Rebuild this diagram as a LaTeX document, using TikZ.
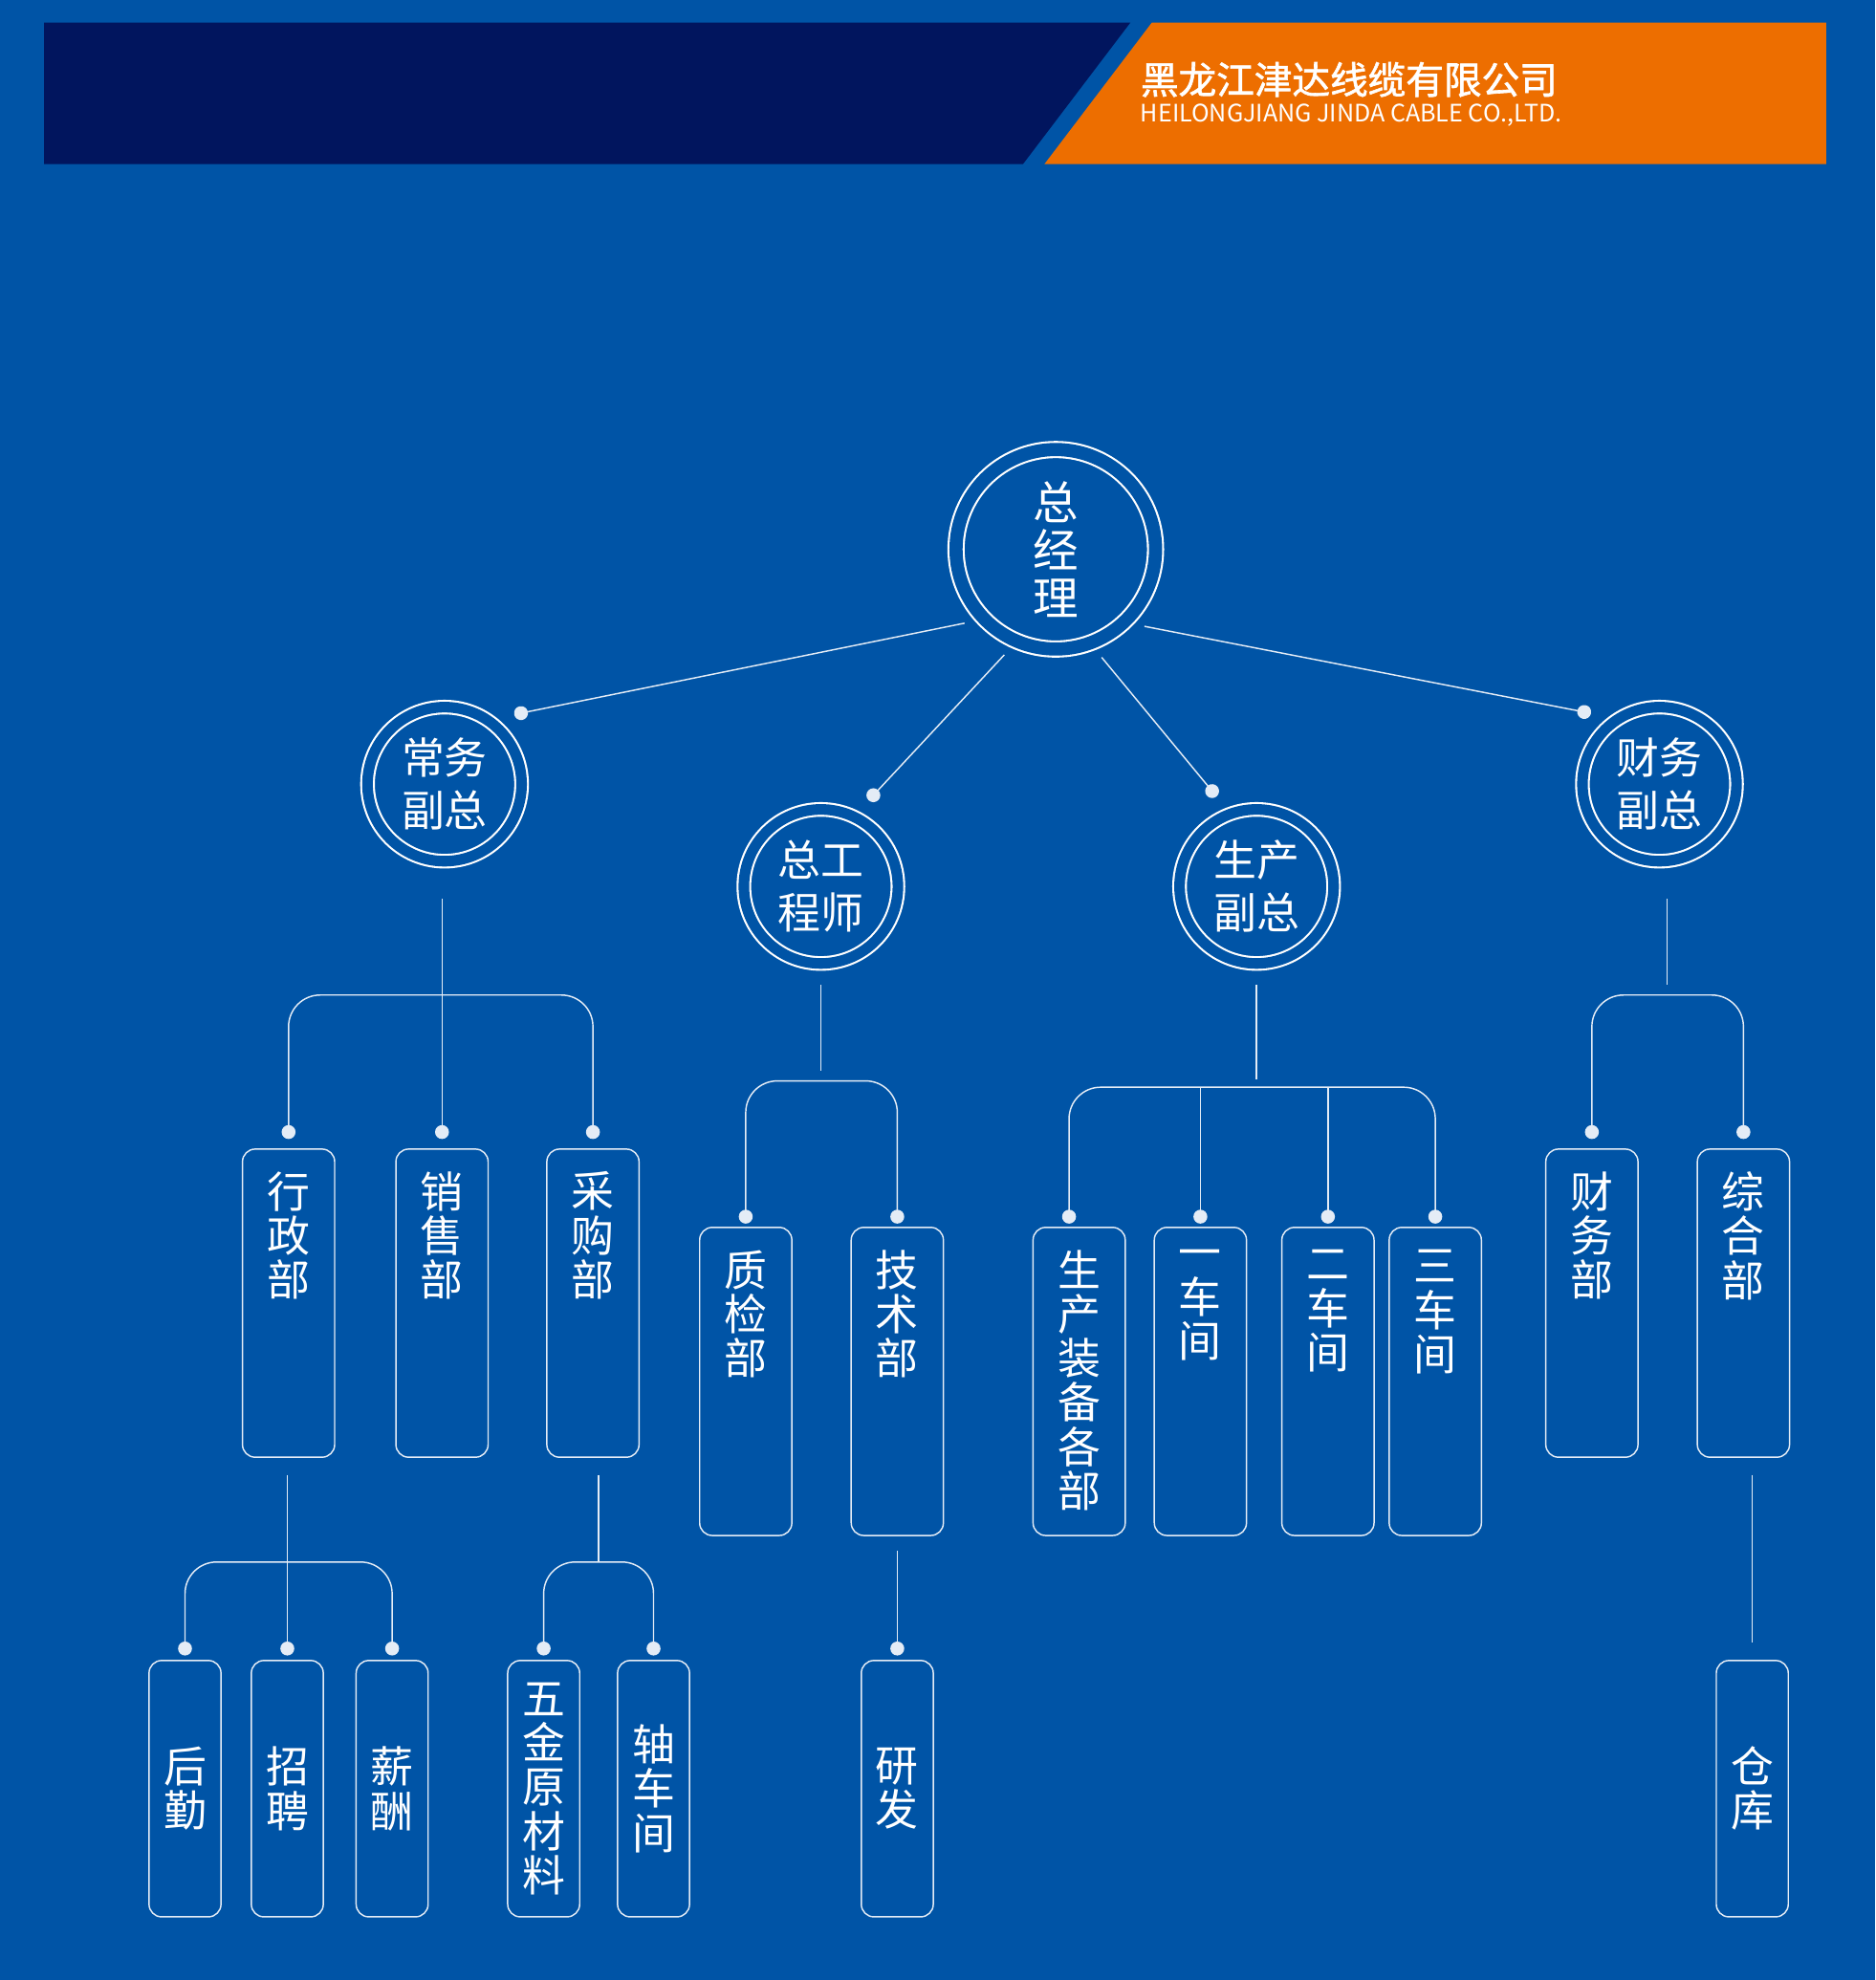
\documentclass[tikz,border=0pt]{standalone}
\usepackage{fontspec}
\usepackage{tikz}
\usetikzlibrary{arrows.meta}
\newfontfamily\cjk{Noto Sans CJK SC}
\newfontfamily\cjktitle[FakeBold=1.6]{Noto Sans CJK SC}
\newcommand{\deptext}[1]{\parbox[c][244pt][t]{73pt}{\centering\vspace*{18pt}#1}}

\tikzset{
  ring/.style={circle,draw=white,line width=1.6,double=bgColor,inner sep=0pt,text=white,align=center},
  topring/.style={ring,minimum size=158,double distance=10.4,outer sep=14,font=\cjk\fontsize{36}{38}\selectfont},
  subring/.style={ring,minimum size=122,double distance=8.4,outer sep=17,font=\cjk\fontsize{34}{42}\selectfont},
  unit/.style={draw=lineColor,line width=1.1,rounded corners=10,inner sep=0pt,text=white,font=\cjk\fontsize{34}{35}\selectfont},
  tallunit/.style={unit,minimum width=73,minimum height=244},
  smallunit/.style={unit,minimum width=57,minimum height=203,text width=57,align=center,outer ysep=4},
  link/.style={draw=lineColor,line width=1.1},
  tolink/.style={link,-{Circle[length=11pt,width=11pt]}},
  twolink/.style={link,rounded corners=25,{Circle[length=11pt,width=11pt]}-{Circle[length=11pt,width=11pt]}}
}

\begin{document}
\begin{tikzpicture}[x=1pt,y=1pt]
\definecolor{bgColor}{RGB}{0,84,166}
\definecolor{navyColor}{RGB}{1,21,94}
\definecolor{orangeColor}{RGB}{237,110,0}
\definecolor{lineColor}{RGB}{228,236,246}
\path[use as bounding box,fill=bgColor] (0,0) rectangle (1485,1568);

% header
\path[fill=navyColor] (35,1438) -- (35,1550) -- (895,1550) -- (810,1438) -- cycle;
\path[fill=orangeColor] (827,1438) -- (912,1550) -- (1446,1550) -- (1446,1438) -- cycle;
\node[text=white,anchor=west,inner sep=0pt,font=\cjktitle\fontsize{30}{30}\selectfont] (title) at (903,1505) {黑龙江津达线缆有限公司};
\node[text=white,anchor=west,inner sep=0pt,font=\cjk\fontsize{19}{19}\selectfont] (subtitle) at (903,1477) {HEILONGJIANG JINDA CABLE CO.,LTD.};

% managers
\node[topring] (gm) at (836,1133) {总\\经\\理};
\node[subring] (fz1) at (352,947) {常务\\副总};
\node[subring] (fz2) at (650,866) {总工\\程师};
\node[subring] (fz3) at (995,866) {生产\\副总};
\node[subring] (fz4) at (1314,947) {财务\\副总};

% departments
\node[tallunit,outer ysep=8] (xz) at (228.5,536) {\deptext{行\\政\\部}};
\node[tallunit,outer ysep=8] (xs) at (350,536) {\deptext{销\\售\\部}};
\node[tallunit,outer ysep=8] (cg) at (469.5,536) {\deptext{采\\购\\部}};
\node[tallunit,outer ysep=8] (cw) at (1260.5,536) {\deptext{财\\务\\部}};
\node[tallunit,outer ysep=8] (zh) at (1380.5,536) {\deptext{综\\合\\部}};

\node[tallunit,outer ysep=3] (zj) at (590.5,474) {\deptext{质\\检\\部}};
\node[tallunit,outer ysep=3] (js) at (710.5,474) {\deptext{技\\术\\部}};
\node[tallunit,outer ysep=3] (sb) at (854.5,474) {\deptext{生\\产\\装\\备\\各\\部}};
\node[tallunit,outer ysep=3] (c1) at (950.5,474) {\deptext{一\\车\\间}};
\node[tallunit,outer ysep=3] (c2) at (1051.5,474) {\deptext{二\\车\\间}};
\node[tallunit,outer ysep=3] (c3) at (1136.5,474) {\deptext{三\\车\\间}};

\node[smallunit] (hq) at (146.5,151.5) {后\\勤};
\node[smallunit] (zp) at (227.5,151.5) {招\\聘};
\node[smallunit] (xc) at (310.5,151.5) {薪\\酬};
\node[smallunit] (wj) at (430.5,151.5) {五\\金\\原\\材\\料};
\node[smallunit] (zc) at (517.5,151.5) {轴\\车\\间};
\node[smallunit] (yf) at (710.5,151.5) {研\\发};
\node[smallunit] (ck) at (1387.5,151.5) {仓\\库};

% bar levels
\coordinate (s1) at ([yshift=-13]fz1.south);
\coordinate (s4) at ([yshift=-13]fz4.south);
\coordinate (b1) at (350,780);
\coordinate (b2) at (650,712);
\coordinate (b3) at (995,707);
\coordinate (b4) at (1320,780);
\coordinate (b5) at (228,331);
\coordinate (b6) at (474,331);

% connectors
\draw[tolink] (gm.219) -- (fz1.45);
\draw[tolink] (gm.244) -- (fz2.61);
\draw[tolink] (gm.293) -- (fz3.114);
\draw[tolink] (gm.319) -- (fz4.134);

\draw[tolink] (s1 -| xs.north) -- (xs.north);
\draw[twolink] (xz.north) |- (b1 -| cg.north) -- (cg.north);

\draw[link] (fz2.south) -- ([yshift=8]b2);
\draw[twolink] (zj.north) |- (b2 -| js.north) -- (js.north);

\draw[link] (fz3.south) -- ([yshift=6]b3);
\draw[twolink] ([xshift=-8]sb.north) |- (b3 -| c3.north) -- (c3.north);
\draw[tolink] (b3 -| c1.north) -- (c1.north);
\draw[tolink] (b3 -| c2.north) -- (c2.north);

\draw[link] (s4 -| b4) -- ([yshift=8]b4);
\draw[twolink] (cw.north) |- (b4 -| zh.north) -- (zh.north);

\draw[tolink] ([yshift=-6]xz.south -| zp.north) -- (zp.north);
\draw[twolink] (hq.north) |- (b5 -| xc.north) -- (xc.north);

\draw[link] ([yshift=-6]cg.south -| b6) -- (b6);
\draw[twolink] (wj.north) |- (b6 -| zc.north) -- (zc.north);

\draw[tolink] ([yshift=-9]js.south) -- (yf.north);
\draw[link] ([yshift=-6]zh.south -| ck.north) -- ([yshift=10]ck.north);
\end{tikzpicture}
\end{document}
